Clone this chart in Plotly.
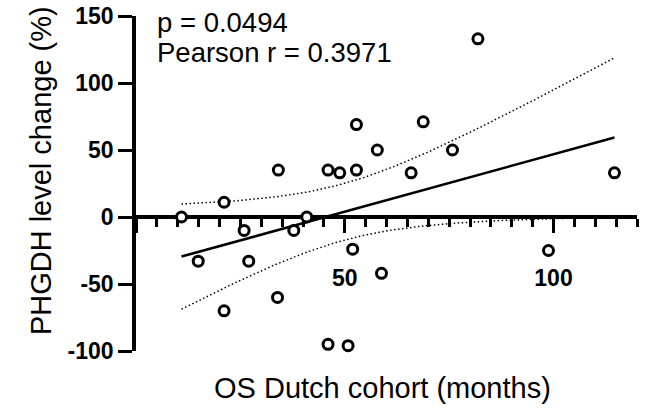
import numpy as np
import plotly.graph_objects as go

# Data
os_months = [10.9, 14.9, 21.1, 21.1, 25.9, 27.0, 34.1, 33.9, 40.9, 37.8, 46.0, 46.0, 48.8,
             50.8, 51.9, 52.8, 52.8, 58.8, 57.8, 65.9, 68.8, 75.8, 81.9, 98.8, 114.6]
phgdh_change = [0, -33, 11, -70, -10, -33, 35, -60, 0, -10, 35, -95, 33,
                -96, -24, 35, 69, -42, 50, 33, 71, 50, 133, -25, 33]
x_tickvals = [0, 50, 100]
x_ticktext = ["", "50", "100"]
y_tickvals = [-100, -50, 0, 50, 100, 150]
y_ticktext = ["-100", "-50", "0", "50", "100", "150"]
p_text = "p = 0.0494"
r_text = "Pearson r = 0.3971"

# Linear regression with 95% confidence band
x = np.array(os_months, dtype=float)
y = np.array(phgdh_change, dtype=float)
n = len(x)
slope, intercept = np.polyfit(x, y, 1)
resid = y - (slope * x + intercept)
s = np.sqrt(np.sum(resid ** 2) / (n - 2))
t_crit = 2.0687  # t(0.975, df=23)
xs = np.linspace(x.min(), x.max(), 200)
yfit = slope * xs + intercept
se = s * np.sqrt(1.0 / n + (xs - x.mean()) ** 2 / np.sum((x - x.mean()) ** 2))
upper = yfit + t_crit * se
lower = yfit - t_crit * se

FONT = "Liberation Sans, Arial, sans-serif"

fig = go.Figure()
fig.add_trace(go.Scatter(x=xs, y=upper, mode="lines",
                         line=dict(color="black", width=1.5, dash="1.5px,2.5px"), hoverinfo="skip"))
fig.add_trace(go.Scatter(x=xs, y=lower, mode="lines",
                         line=dict(color="black", width=1.5, dash="1.5px,2.5px"), hoverinfo="skip"))
fig.add_trace(go.Scatter(x=[xs[0], xs[-1]], y=[yfit[0], yfit[-1]], mode="lines",
                         line=dict(color="black", width=2.5)))
fig.add_trace(go.Scatter(x=os_months, y=phgdh_change, mode="markers", cliponaxis=False,
                         marker=dict(symbol="circle", size=10, color="white",
                                     line=dict(color="black", width=3))))

fig.update_layout(
    width=651, height=412,
    margin=dict(l=136, r=14, t=16, b=61),
    paper_bgcolor="white", plot_bgcolor="white",
    showlegend=False,
    font=dict(family=FONT, color="black"),
    xaxis=dict(
        range=[0, 120], anchor="free", position=0.4, automargin=False,
        showgrid=False, zeroline=False,
        showline=True, linecolor="black", linewidth=3.5,
        ticks="outside", ticklen=14, tickwidth=3, tickcolor="black",
        tickvals=x_tickvals, ticktext=x_ticktext,
        tickfont=dict(family=FONT, size=23, weight="bold", color="black"),
        ticklabelstandoff=26,
        minor=dict(dtick=5, tick0=0, ticks="outside", ticklen=8, tickwidth=3, tickcolor="black"),
        layer="below traces",
    ),
    yaxis=dict(
        range=[-100, 150], domain=[0, 1], automargin=False,
        showgrid=False, zeroline=False,
        showline=True, linecolor="black", linewidth=3.5,
        ticks="outside", ticklen=14, tickwidth=3, tickcolor="black",
        tickvals=y_tickvals, ticktext=y_ticktext,
        tickfont=dict(family=FONT, size=23, weight="bold", color="black"),
        layer="below traces",
    ),
    annotations=[
        dict(text=p_text, xref="paper", yref="paper", x=0.044, y=0.9806, xshift=-3,
             xanchor="left", yanchor="middle", showarrow=False,
             font=dict(family=FONT, size=27.5, color="black")),
        dict(text=r_text, xref="paper", yref="paper", x=0.044, y=(351 - 52) / 335, xshift=-3,
             xanchor="left", yanchor="middle", showarrow=False,
             font=dict(family=FONT, size=27.5, color="black")),
        dict(text="OS Dutch cohort (months)", xref="paper", yref="paper",
             x=0.493, y=-0.109, xanchor="center", yanchor="middle", showarrow=False,
             font=dict(family=FONT, size=29, color="black")),
        dict(text="PHGDH level change (%)", xref="paper", yref="paper",
             x=-0.1896, y=0.537, xanchor="center", yanchor="middle", showarrow=False,
             textangle=-90, font=dict(family=FONT, size=29, color="black")),
    ],
)

fig.write_html("out.html", config={"displayModeBar": False},
               post_script="document.body.style.margin='0px';")
